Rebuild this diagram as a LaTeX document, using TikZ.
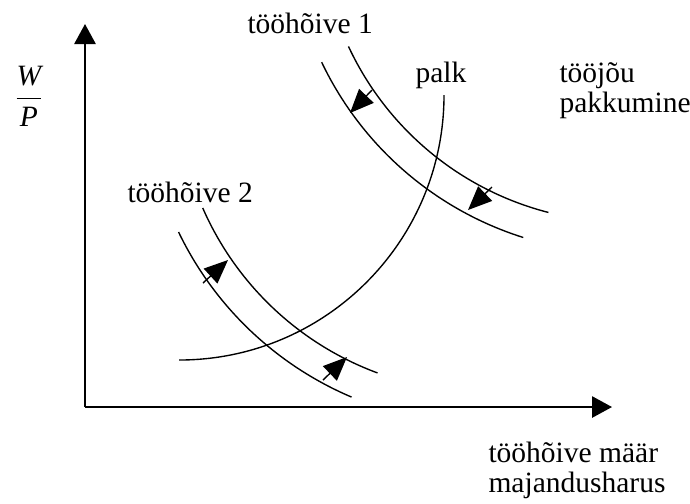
\documentclass[tikz,border=0pt]{standalone}
\usepackage{fontspec}
\setmainfont{Liberation Serif}
\usetikzlibrary{arrows.meta}

\begin{document}
\begin{tikzpicture}[
    x=0.4pt,y=-0.4pt,
    every node/.style={font=\fontsize{11.8}{12}\selectfont,inner sep=0pt},
    lbl/.style={anchor=base west,align=left},
    axisline/.style={line width=0.8pt,-{Triangle[length=8pt,width=8.5pt]}},
    curveline/.style={line width=0.55pt},
    move/.style={line width=0.55pt,-{Triangle[length=9.5pt,width=8pt]}}
  ]
    \useasboundingbox (0,0) rectangle (690,503);

    % Axes
    \coordinate (o) at (85,407);
    \coordinate (ytip) at (85,24);
    \coordinate (xtip) at (612,407);
    \draw[axisline] (o) -- (ytip);
    \draw[axisline] (o) -- (xtip);
    \node (ylbl) at (29,96) {$\displaystyle\frac{\textit{W}}{\textit{P}}$};
    \node[lbl] (xlbl) at (488,492) {tööhõive määr\\majandusharus};

    % Demand curves (centres of the arcs)
    \coordinate (c1) at (624,-82);
    \coordinate (c2) at (484,85);
    \draw[curveline] (c1) ++(155:304) arc[start angle=155,end angle=104.4,radius=304];
    \draw[curveline] (c1) ++(154.5:335) arc[start angle=154.5,end angle=107.5,radius=335];
    \draw[curveline] (c2) ++(156.4:307) arc[start angle=156.4,end angle=110.3,radius=307];
    \draw[curveline] (c2) ++(154.3:339) arc[start angle=154.3,end angle=113,radius=339];

    % Supply curve
    \coordinate (c3) at (179,95);
    \draw[curveline] (c3) ++(90:265) arc[start angle=90,end angle=0,radius=265];

    % Labels
    \node[lbl] (d1lbl) at (247,33) {tööhõive 1};
    \node[lbl] (d2lbl) at (127,202) {tööhõive 2};
    \node[lbl] (palklbl) at (415,82) {palk};
    \node[lbl] (supplbl) at (559,112) {tööjõu\\pakkumine};

    % Shift arrows
    \coordinate (a1) at (372,90);  \coordinate (b1) at (350,113);
    \coordinate (a2) at (492,187); \coordinate (b2) at (468,210);
    \coordinate (a3) at (203,283); \coordinate (b3) at (228,260);
    \coordinate (a4) at (323,380); \coordinate (b4) at (347,357);
    \draw[move] (a1) -- (b1);
    \draw[move] (a2) -- (b2);
    \draw[move] (a3) -- (b3);
    \draw[move] (a4) -- (b4);
  \end{tikzpicture}
\end{document}
